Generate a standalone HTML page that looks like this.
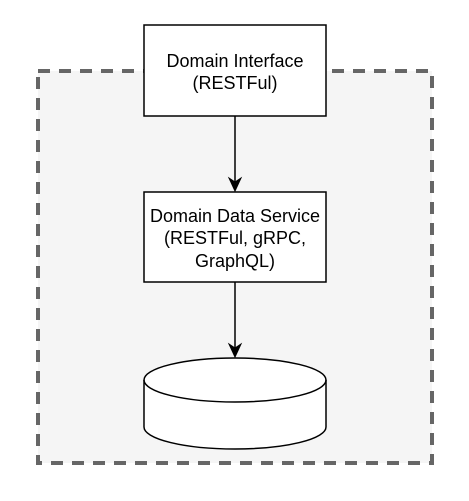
<!DOCTYPE html>
<html><head><style>
html,body{margin:0;padding:0;background:#fff;width:469px;height:501px;overflow:hidden}
svg{display:block}
text{font-family:"Liberation Sans",Arial,sans-serif;font-size:18px;fill:#000}
</style></head><body>
<svg width="469" height="501" xmlns="http://www.w3.org/2000/svg">
<rect x="38" y="71" width="394" height="392" fill="#f5f5f5" stroke="#666" stroke-width="4" stroke-dasharray="12 9"/>
<rect x="144" y="25" width="182" height="91" fill="#fff" stroke="#000" stroke-width="1.5"/>
<text x="235" y="67" text-anchor="middle">Domain Interface</text>
<text x="235" y="89" text-anchor="middle">(RESTFul)</text>
<line x1="235" y1="116" x2="235" y2="184" stroke="#000" stroke-width="1.5"/>
<path d="M229 178 L235 191 L241 178 L235 182 Z" fill="#000" stroke="#000" stroke-width="1"/>
<rect x="144" y="192" width="182" height="90" fill="#fff" stroke="#000" stroke-width="1.5"/>
<text x="235" y="222" text-anchor="middle">Domain Data Service</text>
<text x="235" y="244" text-anchor="middle">(RESTFul, gRPC,</text>
<text x="235" y="267" text-anchor="middle">GraphQL)</text>
<line x1="235" y1="282" x2="235" y2="350" stroke="#000" stroke-width="1.5"/>
<path d="M229 344 L235 357 L241 344 L235 348 Z" fill="#000" stroke="#000" stroke-width="1"/>
<path d="M144 380 A91 22 0 0 1 326 380 L326 427 A91 22 0 0 1 144 427 Z" fill="#fff" stroke="#000" stroke-width="1.5"/>
<path d="M144 380 A91 22 0 0 0 326 380" fill="none" stroke="#000" stroke-width="1.5"/>
</svg>
</body></html>
